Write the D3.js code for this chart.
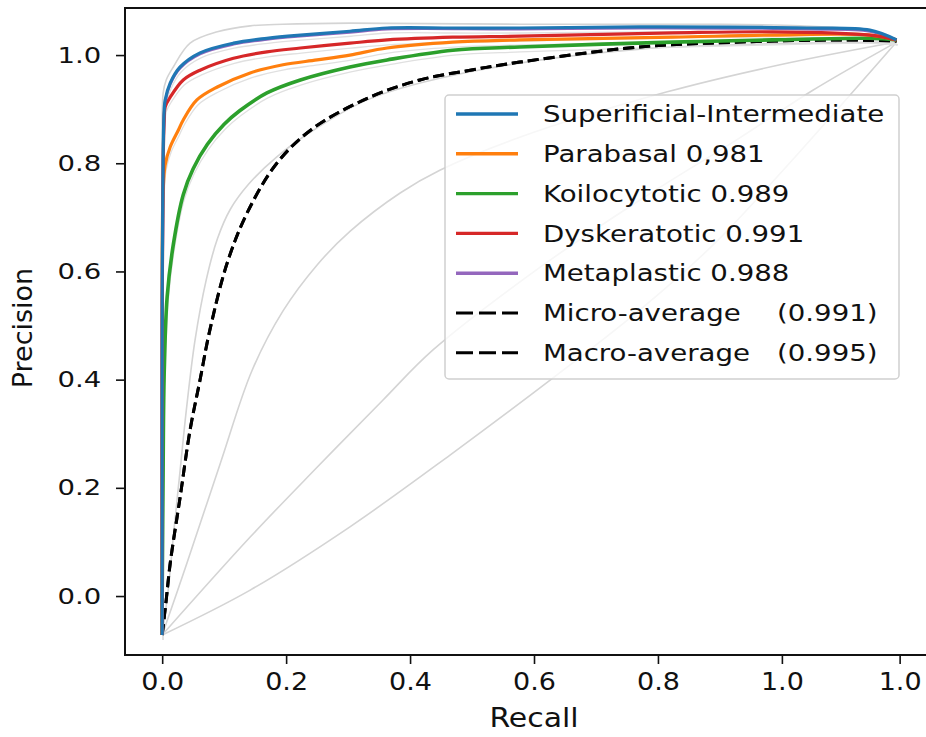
<!DOCTYPE html>
<html lang="en">
<head>
<meta charset="UTF-8">
<title>Precision-Recall curves</title>
<style>
  body { margin: 0; background: #fff; }
  text { font-family: "DejaVu Sans", sans-serif; fill: #111; }
</style>
<script src="https://d3js.org/d3.v7.min.js"></script>
</head>
<body>
<script>
const width = 926
const height = 737

// curves as [recall, precision] points
const superficial = [[0,-0.072],[0,0.177],[0,0.547],[0.0016,0.824],[0.0032,0.898],[0.0048,0.917],[0.0129,0.948],[0.029,0.978],[0.061,1.004],[0.115,1.022],[0.169,1.031],[0.223,1.037],[0.303,1.044],[0.363,1.050],[0.469,1.050],[0.577,1.050],[0.771,1.052],[1.040,1.050],[1.142,1.046],[1.185,1.028]]
const parabasal = [[0,-0.072],[0,0.362],[0,0.640],[0.0016,0.750],[0.0048,0.797],[0.0129,0.830],[0.026,0.861],[0.034,0.880],[0.056,0.917],[0.089,0.941],[0.142,0.967],[0.195,0.982],[0.250,0.991],[0.303,1.000],[0.363,1.013],[0.469,1.024],[0.577,1.028],[0.824,1.033],[0.985,1.037],[1.142,1.037],[1.185,1.028]]
const koilocytotic = [[0,-0.072],[0,-0.002],[0.0016,0.246],[0.003,0.400],[0.008,0.553],[0.018,0.650],[0.034,0.742],[0.050,0.790],[0.073,0.835],[0.100,0.872],[0.125,0.897],[0.169,0.930],[0.223,0.954],[0.303,0.978],[0.363,0.991],[0.469,1.009],[0.577,1.015],[0.824,1.024],[0.985,1.028],[1.142,1.031],[1.185,1.028]]
const dyskeratotic = [[0,-0.072],[0,0.547],[0.0016,0.806],[0.0032,0.880],[0.0048,0.904],[0.0129,0.922],[0.034,0.954],[0.061,0.972],[0.115,0.994],[0.169,1.006],[0.223,1.013],[0.303,1.022],[0.363,1.028],[0.469,1.033],[0.577,1.035],[0.824,1.041],[0.985,1.043],[1.142,1.037],[1.185,1.028]]
const metaplastic = [[0,-0.072],[0,0.5],[0.0016,0.80],[0.003,0.878],[0.005,0.914],[0.0129,0.946],[0.029,0.976],[0.061,1.002],[0.115,1.020],[0.169,1.029],[0.223,1.035],[0.303,1.042],[0.363,1.048],[0.577,1.048],[0.771,1.050],[1.040,1.048],[1.142,1.044],[1.185,1.028]]
const microAvg = [[0,-0.072],[0.0065,-0.007],[0.013,0.061],[0.029,0.183],[0.045,0.307],[0.061,0.399],[0.077,0.492],[0.105,0.616],[0.137,0.708],[0.185,0.800],[0.244,0.865],[0.335,0.922],[0.416,0.954],[0.497,0.972],[0.577,0.987],[0.771,1.015],[0.932,1.024],[1.094,1.028],[1.185,1.026]]
const macroAvg = [[0,-0.072],[0.0065,-0.007],[0.013,0.061],[0.029,0.183],[0.045,0.307],[0.061,0.399],[0.077,0.492],[0.105,0.616],[0.137,0.708],[0.185,0.800],[0.244,0.865],[0.335,0.922],[0.416,0.954],[0.497,0.972],[0.577,0.987],[0.771,1.015],[0.932,1.024],[1.094,1.028],[1.185,1.026]]

// light grey background curves
const grayTop = [[0,-0.072],[0,0.547],[0,0.824],[0.0016,0.930],[0.0065,0.954],[0.018,0.978],[0.045,1.022],[0.089,1.043],[0.142,1.054],[0.195,1.057],[0.303,1.059],[0.577,1.057],[0.868,1.057],[1.029,1.054],[1.142,1.044],[1.185,1.028]]
const gray1 = [[0,-0.072],[0.0097,0.011],[0.019,0.122],[0.029,0.233],[0.039,0.344],[0.053,0.473],[0.071,0.584],[0.089,0.660],[0.110,0.715],[0.140,0.762],[0.185,0.812],[0.244,0.861],[0.335,0.919],[0.497,0.969],[0.771,1.011],[1.185,1.024]]
const gray2 = [[0,-0.072],[0.040,0.061],[0.094,0.246],[0.145,0.417],[0.195,0.527],[0.250,0.612],[0.303,0.674],[0.384,0.745],[0.448,0.787],[0.577,0.848],[0.815,0.932],[0.997,0.982],[1.185,1.024]]
const gray3 = [[0,-0.072],[0.142,0.109],[0.250,0.238],[0.356,0.362],[0.437,0.455],[0.610,0.608],[0.771,0.732],[0.932,0.847],[1.050,0.935],[1.185,1.024]]
const gray4 = [[0,-0.072],[0.142,0.011],[0.303,0.128],[0.465,0.261],[0.626,0.399],[0.771,0.529],[0.889,0.649],[1.002,0.787],[1.185,1.024]]

const classNames = ["Superificial-Intermediate", "Parabasal 0,981", "Koilocytotic 0.989", "Dyskeratotic 0.991", "Metaplastic 0.988"]
const classColors = ["#1f77b4", "#ff7f0e", "#2ca02c", "#d62728", "#9467bd"]
const avgNames = ["Micro-average", "Macro-average"]
const avgScores = ["(0.991)", "(0.995)"]

const xTicks = [0, 0.2, 0.4, 0.6, 0.8, 1.0, 1.19]
const xTickLabels = ["0.0", "0.2", "0.4", "0.6", "0.8", "1.0", "1.0"]
const yTicks = [0, 0.2, 0.4, 0.6, 0.8, 1.0]

const svg = d3.select("body").append("svg")
  .attr("width", width)
  .attr("height", height)

const plotLeft = 125, plotRight = 930, plotTop = 8, plotBottom = 655

const x = d3.scaleLinear().domain([-0.06, 1.239]).range([plotLeft, plotRight])
const y = d3.scaleLinear().domain([-0.109, 1.087]).range([plotBottom, plotTop])

svg.append("clipPath").attr("id", "plotclip")
  .append("rect").attr("x", plotLeft).attr("y", plotTop).attr("width", plotRight - plotLeft).attr("height", plotBottom - plotTop)

const line = d3.line()
  .x(d => x(d[0]))
  .y(d => y(d[1]))
  .curve(d3.curveCatmullRom.alpha(0.5))

const plot = svg.append("g").attr("clip-path", "url(#plotclip)")

//grey curves
plot.selectAll(".gray")
  .data([grayTop, gray1, gray2, gray3, gray4])
  .join("path")
  .attr("class", "gray")
  .attr("d", line)
  .style("fill", "none")
  .style("stroke", "#d4d4d4")
  .style("stroke-width", 1.6)

//faint shadow traces below the class curves
plot.selectAll(".shadow")
  .data([superficial, dyskeratotic, parabasal, koilocytotic])
  .join("path")
  .attr("class", "shadow")
  .attr("d", line)
  .attr("transform", "translate(1,5)")
  .style("fill", "none")
  .style("stroke", "#e0e0e0")
  .style("stroke-width", 1.3)

//averages
plot.selectAll(".avg")
  .data([macroAvg, microAvg])
  .join("path")
  .attr("class", "avg")
  .attr("d", line)
  .style("fill", "none")
  .style("stroke", "#000")
  .style("stroke-width", 3)
  .style("stroke-dasharray", "11,5")

//class curves (purple first so it mostly sits under the others)
const classData = [superficial, parabasal, koilocytotic, dyskeratotic, metaplastic]
const order = [4, 2, 1, 3, 0]
plot.selectAll(".cls")
  .data(order)
  .join("path")
  .attr("class", "cls")
  .attr("d", i => line(classData[i]))
  .style("fill", "none")
  .style("stroke", i => classColors[i])
  .style("stroke-width", i => i === 2 ? 3.6 : (i === 4 ? 2.8 : 3.2))
  .style("stroke-linejoin", "round")

//frame
svg.append("rect")
  .attr("x", plotLeft).attr("y", plotTop)
  .attr("width", plotRight - plotLeft).attr("height", plotBottom - plotTop)
  .style("fill", "none")
  .style("stroke", "#111")
  .style("stroke-width", 2)

//axes
const xAxis = svg.append("g")
  .attr("transform", "translate(0," + plotBottom + ")")
  .call(d3.axisBottom(x).tickValues(xTicks).tickFormat((d, i) => xTickLabels[i]).tickSize(9).tickPadding(8))
xAxis.select(".domain").remove()
xAxis.selectAll(".tick line").style("stroke", "#111").style("stroke-width", 1.6)
xAxis.selectAll(".tick text")
  .style("font-size", "25px")
  .style("font-family", "DejaVu Sans")
  .attr("dy", "0.71em")
  .attr("transform", "scale(1.08,1)")

const yAxis = svg.append("g")
  .attr("transform", "translate(" + plotLeft + ",0)")
  .call(d3.axisLeft(y).tickValues(yTicks).tickFormat(d3.format(".1f")).tickSize(9).tickPadding(10))
yAxis.select(".domain").remove()
yAxis.selectAll(".tick line").style("stroke", "#111").style("stroke-width", 1.6)
yAxis.selectAll(".tick text")
  .style("font-size", "22px")
  .style("font-family", "DejaVu Sans")
  .attr("transform", "scale(1.25,1)")

//axis titles
svg.append("text")
  .attr("transform", "translate(534,727) scale(1.15,1)")
  .attr("text-anchor", "middle")
  .style("font-size", "26px")
  .text("Recall")

svg.append("text")
  .attr("transform", "translate(32,328) rotate(-90)")
  .attr("text-anchor", "middle")
  .style("font-size", "27px")
  .text("Precision")

//legend
const legend = svg.append("g")
legend.append("rect")
  .attr("x", 445).attr("y", 95)
  .attr("width", 454).attr("height", 284)
  .attr("rx", 4)
  .style("fill", "#fff")
  .style("fill-opacity", 0.8)
  .style("stroke", "#d0d0d0")
  .style("stroke-width", 1.5)

const rowY = i => 114 + i * 39.8

classNames.forEach((name, i) => {
  legend.append("line")
    .attr("x1", 456).attr("x2", 518)
    .attr("y1", rowY(i)).attr("y2", rowY(i))
    .style("stroke", classColors[i])
    .style("stroke-width", 3.4)
  legend.append("text")
    .attr("transform", "translate(543," + rowY(i) + ") scale(1.2,1)")
    .attr("dy", "0.36em")
    .style("font-size", "23px")
    .text(name)
})

avgNames.forEach((name, j) => {
  const i = classNames.length + j
  legend.append("line")
    .attr("x1", 456).attr("x2", 518)
    .attr("y1", rowY(i)).attr("y2", rowY(i))
    .style("stroke", "#000")
    .style("stroke-width", 3)
    .style("stroke-dasharray", "17,6")
  legend.append("text")
    .attr("transform", "translate(543," + rowY(i) + ") scale(1.2,1)")
    .attr("dy", "0.36em")
    .style("font-size", "23px")
    .text(name)
  legend.append("text")
    .attr("transform", "translate(777," + rowY(i) + ") scale(1.2,1)")
    .attr("dy", "0.36em")
    .style("font-size", "23px")
    .text(avgScores[j])
})
</script>
</body>
</html>
